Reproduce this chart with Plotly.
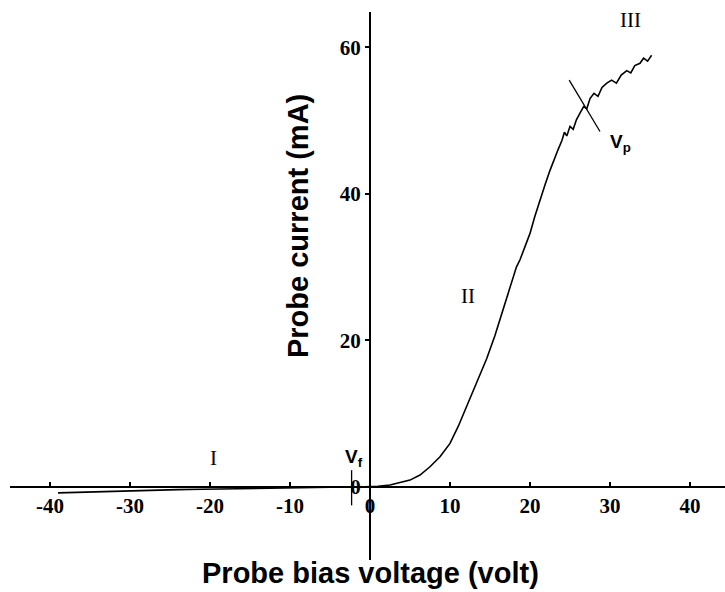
import plotly.graph_objects as go

# Digitised I-V characteristic (probe bias voltage in V, probe current in mA)
voltage = [-39, -36, -33, -30, -27, -24, -21, -18, -15, -12, -9, -6, -3, -1.5, 0,
           1, 2.5, 4, 5, 6.25, 7.5, 8.75, 10, 11.04, 12.08, 13.33, 14.58, 15.6,
           16.4, 17.1, 17.7, 18.3,
           18.75, 19.4, 20, 20.6, 21.25, 21.9, 22.5, 23.0, 23.5, 24.0, 24.3, 24.6,
           25, 25.4, 25.8, 26.25, 26.7, 27.1, 27.5, 28, 28.5, 29, 29.6, 30.2, 30.8,
           31.4, 32.1, 32.6, 33.1, 33.75, 34.2, 34.7, 35.2]
current = [-0.8, -0.7, -0.6, -0.45, -0.4, -0.35, -0.3, -0.25, -0.12, -0.05, -0.02, 0.0, 0.0, 0.0, 0.0,
           0.1, 0.27, 0.7, 0.95, 1.64, 2.77, 4.14, 5.96, 8.3, 10.96, 14.1, 17.5, 20.6,
           23.4, 26.0, 28.0, 30.0,
           31.0, 32.9, 34.6, 36.9, 39.2, 41.3, 43.2, 44.7, 46.0, 47.3, 48.4, 47.9,
           49.2, 48.8, 50.1, 51.0, 51.9, 51.6, 53.0, 53.7, 53.3, 54.5, 55.1, 55.5, 55.1,
           56.2, 56.8, 56.5, 57.5, 57.8, 58.5, 58.1, 58.9]

x_ticks = [-40, -30, -20, -10, 0, 10, 20, 30, 40]
y_ticks = [0, 20, 40, 60]

x_range = [-45, 44.375]
y_range = [-9.95, 64.8]

# marker lines for V_f and V_p
vf_x = [-2.3, -2.3]
vf_y = [2.3, -2.5]
vp_x = [24.9, 28.75]
vp_y = [55.5, 48.5]

fig = go.Figure()
fig.add_trace(go.Scatter(x=voltage, y=current, mode="lines",
                         line=dict(color="black", width=1.6), showlegend=False))
fig.add_trace(go.Scatter(x=vf_x, y=vf_y, mode="lines",
                         line=dict(color="black", width=1.3), showlegend=False))
fig.add_trace(go.Scatter(x=vp_x, y=vp_y, mode="lines",
                         line=dict(color="black", width=1.3), showlegend=False))

x_pos = (0 - y_range[0]) / (y_range[1] - y_range[0])
y_pos = (0 - x_range[0]) / (x_range[1] - x_range[0])

tick_font = dict(family="Liberation Serif", size=21, color="black")

fig.update_layout(
    width=725, height=592,
    margin=dict(l=10, r=0, t=12, b=32),
    plot_bgcolor="white", paper_bgcolor="white",
    xaxis=dict(range=x_range, anchor="free", position=x_pos,
               tickvals=x_ticks, ticktext=[f"<b>{v}</b>" for v in x_ticks],
               ticks="inside", ticklen=4, tickwidth=1.5, tickcolor="black",
               showline=True, linecolor="black", linewidth=2,
               showgrid=False, zeroline=False, tickfont=tick_font),
    yaxis=dict(range=y_range, anchor="free", position=y_pos,
               tickvals=y_ticks, ticktext=[f"<b>{v}</b>" for v in y_ticks],
               ticks="outside", ticklen=4, tickwidth=1.5, tickcolor="black",
               showline=True, linecolor="black", linewidth=2,
               showgrid=False, zeroline=False, tickfont=tick_font),
)

title_font = dict(family="Liberation Sans", size=29, color="black")
serif = dict(family="Liberation Serif", size=21, color="black")
sans = dict(family="Liberation Sans", size=19, color="black")

annotations = [
    dict(text="<b>Probe bias voltage (volt)</b>", x=0, xref="x", y=-0.023, yref="paper",
         xanchor="center", yanchor="middle", font=title_font, showarrow=False),
    dict(text="<b>Probe current (mA)</b>", x=(298 - 370) / 8.0, xref="x",
         y=(487 - 226) / 7.33, yref="y",
         textangle=-90, font=title_font, showarrow=False),
    dict(text="I", x=-19.6, y=3.9, xref="x", yref="y", font=serif, showarrow=False),
    dict(text="II", x=12.25, y=26, xref="x", yref="y", font=serif, showarrow=False),
    dict(text="III", x=32.5, y=63.7, xref="x", yref="y", font=serif, showarrow=False),
    dict(text="<b>V<sub>f</sub></b>", x=-2.0, y=4.0, xref="x", yref="y", font=sans, showarrow=False),
    dict(text="<b>V<sub>p</sub></b>", x=31.3, y=46.9, xref="x", yref="y", font=sans, showarrow=False),
]
fig.update_layout(annotations=annotations)

fig.write_html("out.html")
